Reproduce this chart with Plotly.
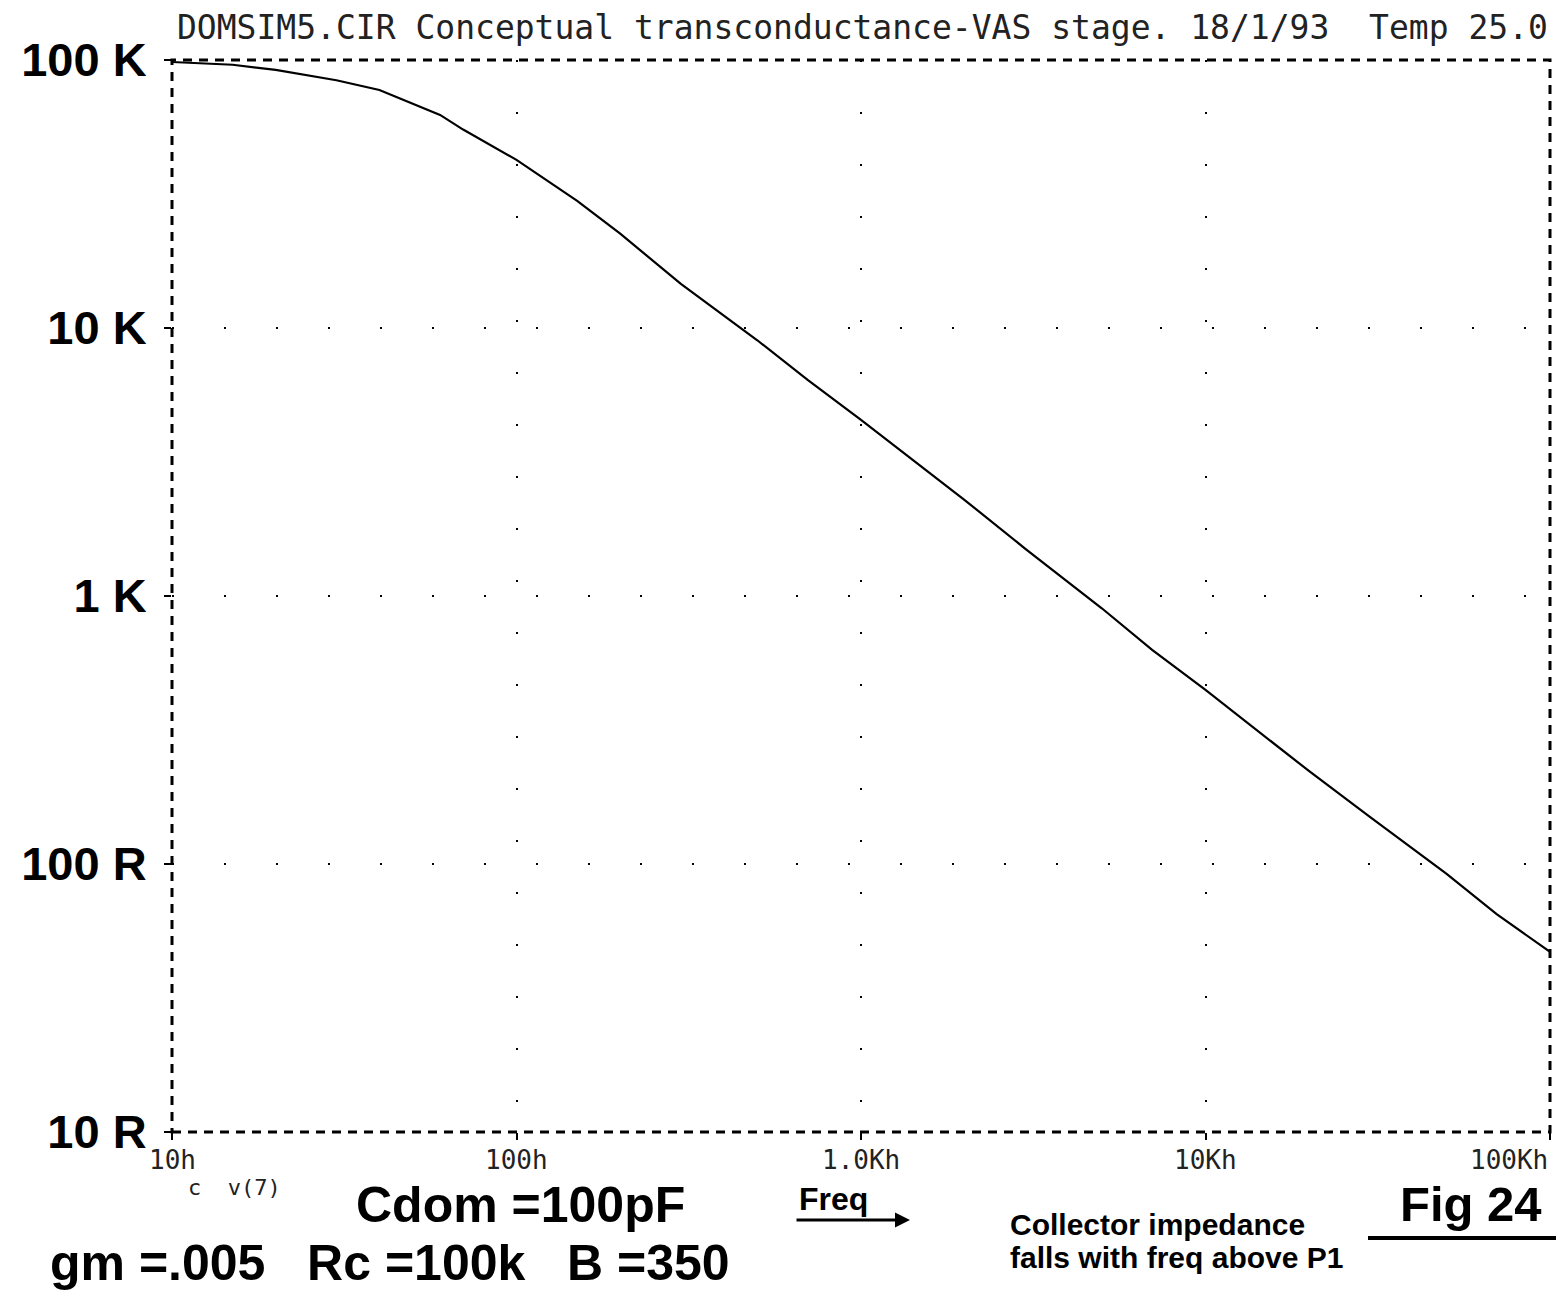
import plotly.graph_objects as go
import math

# ---- data (log-log) ----
freq_hz = [10, 15, 20, 30, 40, 60, 70, 100, 150, 200, 300, 500, 700,
           1000, 2000, 3000, 5000, 7000, 10000, 20000, 30000, 50000, 70000, 100000]
impedance_ohm = [98300, 96000, 91800, 84000, 77300, 62400, 55000, 42400, 29800,
                 22500, 14600, 9000, 6400, 4540, 2280, 1500, 900, 630, 446,
                 222, 150, 92, 65, 47]

y_tick_vals = [10, 100, 1000, 10000, 100000]
y_tick_text = ["10 R", "100 R", "1 K", "10 K", "100 K"]
x_tick_vals = [10, 100, 1000, 10000, 100000]
x_tick_text = ["10h", "100h", "1.0Kh", "10Kh", "100Kh"]

title_text = "DOMSIM5.CIR Conceptual transconductance-VAS stage. 18/1/93  Temp 25.0"

# page is rendered with the default 8px body margin
OFF = 8
W, H = 1566 - OFF, 1294 - OFF
X0, X1, Y0, Y1 = 172, 1550, 60, 1132          # plot area in page pixels
L, T = X0 - OFF, Y0 - OFF
R = (W + OFF) - X1
B = (H + OFF) - Y1


def px(x):
    return (x - X0) / (X1 - X0)


def py(y):
    return (Y1 - y) / (Y1 - Y0)


MONO = "DejaVu Sans Mono"
SANS = "Liberation Sans, Arial"

fig = go.Figure()
fig.add_trace(go.Scatter(
    x=freq_hz, y=impedance_ohm, mode="lines",
    line=dict(color="black", width=2.2),
    showlegend=False, hoverinfo="x+y"))

grid_common = dict(showgrid=True, gridcolor="black", gridwidth=2,
                   griddash="2px,50px", zeroline=False, showline=False,
                   ticks="outside", ticklen=7, tickwidth=2, tickcolor="black")

fig.update_xaxes(type="log", range=[1, 5], tickvals=x_tick_vals,
                 showticklabels=False, **grid_common)
fig.update_yaxes(type="log", range=[1, 5], tickvals=y_tick_vals,
                 ticktext=y_tick_text, ticklabelstandoff=8,
                 tickfont=dict(family=SANS, size=47, color="black", weight="bold"),
                 **grid_common)

# dashed plot frame
fig.add_shape(type="rect", xref="paper", yref="paper", x0=0, y0=0, x1=1, y1=1,
              line=dict(color="black", width=3, dash="9px,7px"))

ann = []
# x tick labels (annotations so the last label stays inside the page)
for v, t in zip(x_tick_vals, x_tick_text):
    anchor = "right" if v == x_tick_vals[-1] else "center"
    ann.append(dict(x=math.log10(v), y=py(1160), xref="x", yref="paper", text=t,
                    showarrow=False, xanchor=anchor, yanchor="middle",
                    font=dict(family=MONO, size=26, color="#222")))

# title line
ann.append(dict(x=px(175), y=py(28), xref="paper", yref="paper", text=title_text,
                showarrow=False, xanchor="left", yanchor="middle",
                font=dict(family=MONO, size=33, color="#222")))

# footer annotations
ann.append(dict(x=px(186), y=py(1187), xref="paper", yref="paper", text="c  v(7)",
                showarrow=False, xanchor="left", yanchor="middle",
                font=dict(family=MONO, size=22, color="#222")))
ann.append(dict(x=px(354), y=py(1205), xref="paper", yref="paper", text="Cdom =100pF",
                showarrow=False, xanchor="left", yanchor="middle",
                font=dict(family=SANS, size=50, color="black", weight="bold")))
ann.append(dict(x=px(48), y=py(1263), xref="paper", yref="paper",
                text="gm =.005   Rc =100k   B =350",
                showarrow=False, xanchor="left", yanchor="middle",
                font=dict(family=SANS, size=50, color="black", weight="bold")))
ann.append(dict(x=px(797), y=py(1199), xref="paper", yref="paper", text="Freq",
                showarrow=False, xanchor="left", yanchor="middle",
                font=dict(family=SANS, size=32, color="black", weight="bold")))
ann.append(dict(x=px(910), y=py(1220), xref="paper", yref="paper", text="",
                showarrow=True, axref="pixel", ayref="pixel", ax=-115, ay=0,
                arrowhead=2, arrowsize=1, arrowwidth=3, arrowcolor="black"))
ann.append(dict(x=px(1008), y=py(1224), xref="paper", yref="paper",
                text="Collector impedance",
                showarrow=False, xanchor="left", yanchor="middle",
                font=dict(family=SANS, size=30, color="black", weight="bold")))
ann.append(dict(x=px(1008), y=py(1257), xref="paper", yref="paper",
                text="falls with freq above P1",
                showarrow=False, xanchor="left", yanchor="middle",
                font=dict(family=SANS, size=30, color="black", weight="bold")))
ann.append(dict(x=px(1398), y=py(1204), xref="paper", yref="paper", text="Fig 24",
                showarrow=False, xanchor="left", yanchor="middle",
                font=dict(family=SANS, size=49, color="black", weight="bold")))
fig.update_layout(annotations=ann)

# underline of "Fig 24"
fig.add_shape(type="line", xref="paper", yref="paper",
              x0=px(1368), x1=px(1556), y0=py(1238), y1=py(1238),
              line=dict(color="black", width=4))

fig.update_layout(width=W, height=H, autosize=False,
                  margin=dict(l=L, r=R, t=T, b=B),
                  plot_bgcolor="white", paper_bgcolor="white",
                  showlegend=False)

fig.write_html("out.html")
